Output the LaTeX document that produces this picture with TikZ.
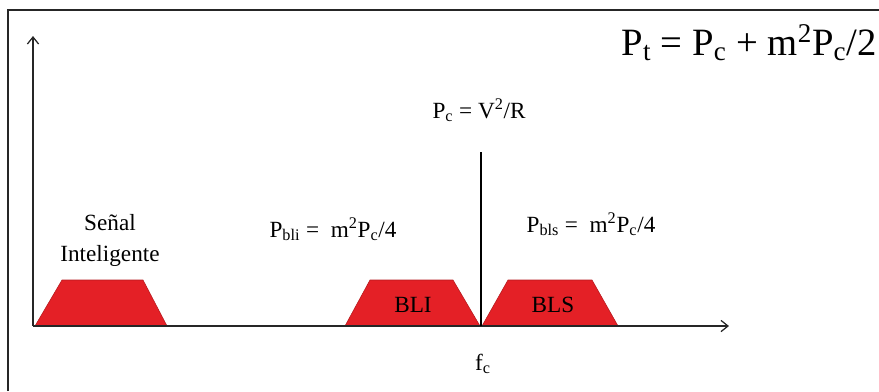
\documentclass[tikz,border=0pt]{standalone}
\usepackage{fontspec}
\setmainfont{Liberation Serif}
\usepackage{tikz}
\usetikzlibrary{arrows.meta}
\definecolor{bandred}{RGB}{228,32,38}

\begin{document}
\begin{tikzpicture}[
    x=0.025cm, y=-0.025cm,
    axis/.style={draw=black!85,line width=0.9pt,-{Straight Barb[length=5pt,width=8pt]}},
    band/.style={fill=bandred,draw=bandred!80!black,line width=0.4pt},
    lbl/.style={font=\fontsize{16.5}{19}\selectfont,inner sep=0pt,anchor=base},
    big/.style={font=\fontsize{27.5}{32}\selectfont,inner sep=0pt,anchor=base}
  ]
  \useasboundingbox (0,0) rectangle (879,391);
  % marco
  \draw[line width=1.4pt,black!85] (8,391) -- (8,10) -- (879,10);
  % bandas
  \foreach \a/\b/\c/\d in {35/62/143/167, 345/370/453/480, 482/508/592/618}
    \filldraw[band] (\a,326) -- (\b,280) -- (\c,280) -- (\d,326) -- cycle;
  % ejes
  \coordinate (o) at (33,326);
  \coordinate (ytop) at (33,36);
  \coordinate (xend) at (729,326);
  \draw[axis] (o) -- (ytop);
  \draw[axis] (o) -- (xend);
  % portadora
  \coordinate (cbot) at (481,326);
  \coordinate (ctop) at (481,152);
  \draw[line width=2pt] (cbot) -- (ctop);
  % textos
  \node[big] (pt) at (749,55) {P\textsubscript{t} = P\textsubscript{c} + m\textsuperscript{2}P\textsubscript{c}/2};
  \node[lbl] (pc) at (479,118) {P\textsubscript{c} = V\textsuperscript{2}/R};
  \node[lbl] (sen1) at (110,230) {Señal};
  \node[lbl] (sen2) at (110,261) {Inteligente};
  \node[lbl] (pbli) at (333,237) {P\textsubscript{bli} = \ m\textsuperscript{2}P\textsubscript{c}/4};
  \node[lbl] (pbls) at (591,232) {P\textsubscript{bls} = \ m\textsuperscript{2}P\textsubscript{c}/4};
  \node[lbl] (bli) at (413,312) {BLI};
  \node[lbl] (bls) at (553,312) {BLS};
  \node[lbl] (fc) at (483,370) {f\textsubscript{c}};
\end{tikzpicture}
\end{document}
